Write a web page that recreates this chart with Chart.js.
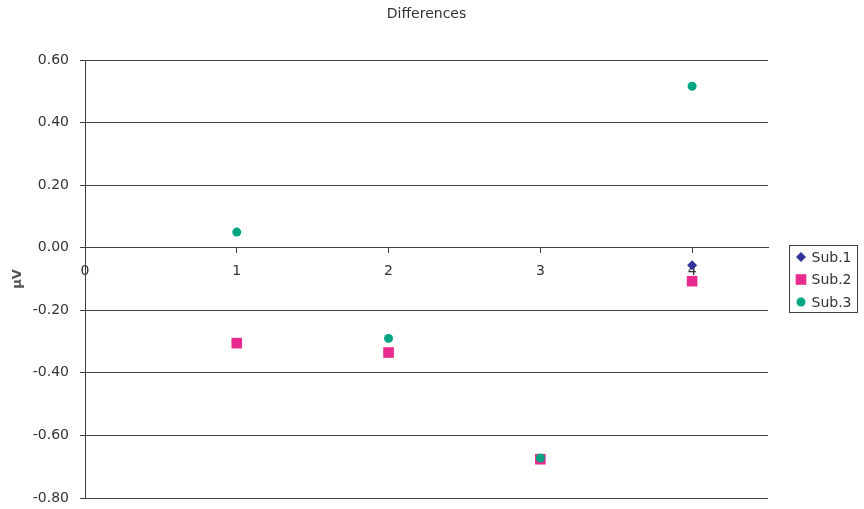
<!DOCTYPE html>
<html>
<head>
<meta charset="utf-8">
<title>Differences</title>
<script src="https://cdn.jsdelivr.net/npm/chart.js@4.4.1/dist/chart.umd.min.js"></script>
<style>
    body { margin: 0; background: #fff; }
</style>
</head>
<body>
<canvas id="diffChart" width="864" height="509"></canvas>
<script>
// Sample positions and the difference measured for each subject
const positions = [1, 2, 3, 4];
const sub1 = [-0.305, -0.335, -0.676, -0.056];
const sub2 = [-0.305, -0.335, -0.676, -0.107];
const sub3 = [0.05, -0.29, -0.672, 0.516];
const seriesNames = ['Sub.1', 'Sub.2', 'Sub.3'];

const FONT = 'DejaVu Sans';
const TEXT = '#333333';
const LINE = '#404040';

function toPoints(values) {
    return positions.map((x, i) => ({ x: x, y: values[i] }));
}

// Title centred over the plot area, plus a boxed legend on the right
const decorations = {
    id: 'decorations',
    afterDraw(chart) {
        const ctx = chart.ctx;
        const area = chart.chartArea;
        ctx.save();
        ctx.fillStyle = TEXT;
        ctx.font = '14px "' + FONT + '"';
        ctx.textAlign = 'center';
        ctx.textBaseline = 'middle';
        ctx.fillText('Differences', (area.left + area.right) / 2, 14);

        const box = { x: 789.5, y: 245.5, w: 68, h: 67 };
        ctx.strokeStyle = LINE;
        ctx.lineWidth = 1;
        ctx.strokeRect(box.x, box.y, box.w, box.h);

        ctx.textAlign = 'left';
        chart.data.datasets.forEach((ds, i) => {
            const cy = box.y + 11.5 + i * 22.5;
            ctx.fillStyle = ds.backgroundColor;
            Chart.helpers.drawPoint(ctx, {
                pointStyle: ds.pointStyle,
                radius: ds.legendRadius,
                borderWidth: 0
            }, box.x + 11.5, cy);
            ctx.fillStyle = TEXT;
            ctx.fillText(ds.label, box.x + 22, cy + 1);
        });
        ctx.restore();
    }
};

new Chart(document.getElementById('diffChart'), {
    type: 'scatter',
    data: {
        datasets: [
            {
                label: seriesNames[0],
                data: toPoints(sub1),
                order: 3,
                pointStyle: 'rectRot',
                pointRadius: 5,
                legendRadius: 5,
                backgroundColor: '#333399',
                borderColor: '#333399',
                borderWidth: 0
            },
            {
                label: seriesNames[1],
                data: toPoints(sub2),
                order: 2,
                pointStyle: 'rect',
                pointRadius: 7.5,
                legendRadius: 7.5,
                backgroundColor: '#e8298d',
                borderColor: '#e8298d',
                borderWidth: 0
            },
            {
                label: seriesNames[2],
                data: toPoints(sub3),
                order: 1,
                pointStyle: 'circle',
                pointRadius: 4.5,
                legendRadius: 4.5,
                backgroundColor: '#00a682',
                borderColor: '#00a682',
                borderWidth: 0
            }
        ]
    },
    options: {
        responsive: false,
        animation: false,
        layout: {
            padding: { top: 60, right: 96, bottom: 11, left: 0 }
        },
        scales: {
            x: {
                type: 'linear',
                position: { y: 0 },
                min: 0,
                max: 4.5,
                ticks: {
                    stepSize: 1,
                    includeBounds: false,
                    padding: 10,
                    color: TEXT,
                    font: { family: FONT, size: 14 }
                },
                grid: {
                    drawOnChartArea: false,
                    drawTicks: true,
                    tickLength: 5,
                    color: LINE
                },
                border: { color: LINE }
            },
            y: {
                min: -0.8,
                max: 0.6,
                ticks: {
                    stepSize: 0.2,
                    padding: 11,
                    color: TEXT,
                    font: { family: FONT, size: 14 },
                    callback: (v) => (Math.abs(v) < 1e-9 ? 0 : v).toFixed(2)
                },
                grid: {
                    color: LINE,
                    tickLength: 5
                },
                border: { color: LINE },
                title: {
                    display: true,
                    text: 'µV',
                    color: '#555555',
                    font: { family: FONT, size: 13, weight: 'bold' },
                    padding: { top: 10, bottom: 0 }
                },
                // fixed gutter; only half a label of room above and below
                afterFit: (scale) => {
                    scale.width = 85;
                    scale.paddingTop = 8;
                    scale.paddingBottom = 8;
                }
            }
        },
        plugins: {
            legend: { display: false },
            title: { display: false },
            tooltip: { enabled: false }
        }
    },
    plugins: [decorations]
});
</script>
</body>
</html>
